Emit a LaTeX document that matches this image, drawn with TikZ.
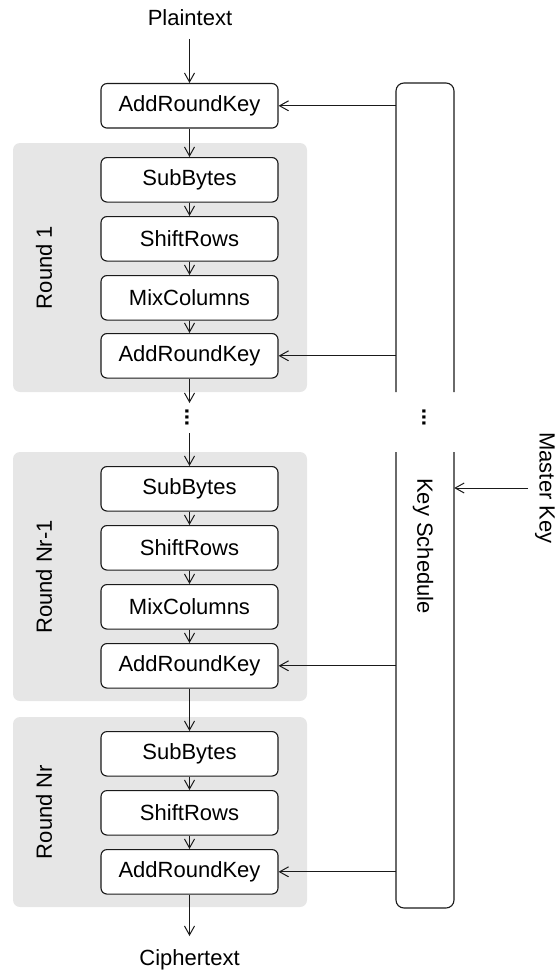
\documentclass[tikz,border=0pt]{standalone}
\usepackage{fontspec}
\setmainfont{Liberation Sans}
\usetikzlibrary{arrows.meta}
\definecolor{roundgray}{HTML}{E6E6E6}
\definecolor{edge}{HTML}{1A1A1A}
\begin{document}
\begin{tikzpicture}[x=1pt,y=1pt,
  font=\fontsize{22}{26}\selectfont,
  stepbox/.style={draw=edge, line width=1.1pt, rounded corners=6pt, fill=white,
    minimum width=177pt, minimum height=44.5pt, inner sep=0pt, anchor=north},
  roundbg/.style={fill=roundgray, rounded corners=7pt},
  ksline/.style={draw=edge, line width=1.1pt, rounded corners=8pt},
  arr/.style={-{Straight Barb[length=9pt,width=10pt,line width=1pt]}, line width=1pt, draw=edge},
  dotsnode/.style={font=\bfseries\fontsize{22}{26}\selectfont, inner sep=0pt},
]
\useasboundingbox (0,0) rectangle (557,-971);

% round backgrounds
\fill[roundbg] (13,-143) rectangle (307,-392);
\fill[roundbg] (13,-452) rectangle (307,-701);
\fill[roundbg] (13,-717) rectangle (307,-907);

% round labels
\node[rotate=90] (r1) at (44,-267.5) {Round 1};
\node[rotate=90] (r2) at (44,-577) {Round Nr-1};
\node[rotate=90] (r3) at (44,-812) {Round Nr};

% plaintext / ciphertext
\node (pt) at (190,-18) {Plaintext};
\coordinate (ptout) at (189.5,-39);
\node (ct) at (189.5,-960) {Ciphertext};
\coordinate (ctin) at (189.5,-936);

% steps
\node[stepbox] (ark0) at (189.5,-83) {AddRoundKey};

\node[stepbox] (sb1) at (189.5,-157) {SubBytes};
\node[stepbox] (sr1) at (189.5,-216) {ShiftRows};
\node[stepbox] (mc1) at (189.5,-275) {MixColumns};
\node[stepbox] (ark1) at (189.5,-333) {AddRoundKey};

\node[dotsnode, rotate=90] (dots) at (187,-417.5) {...};
\coordinate (din) at (189.5,-403);
\coordinate (dout) at (189.5,-433);

\node[stepbox] (sb2) at (189.5,-466) {SubBytes};
\node[stepbox] (sr2) at (189.5,-525) {ShiftRows};
\node[stepbox] (mc2) at (189.5,-584) {MixColumns};
\node[stepbox] (ark2) at (189.5,-643) {AddRoundKey};

\node[stepbox] (sb3) at (189.5,-731) {SubBytes};
\node[stepbox] (sr3) at (189.5,-790) {ShiftRows};
\node[stepbox] (ark3) at (189.5,-849) {AddRoundKey};

% key schedule (broken outline)
\node[minimum width=58pt, minimum height=825pt, inner sep=0pt] (ks) at (425,-495.5) {};
\draw[ksline] (396,-392) -- (396,-83) -- (454,-83) -- (454,-392);
\draw[ksline] (396,-452) -- (396,-908) -- (454,-908) -- (454,-452);
\node[dotsnode, rotate=90] (ksdots) at (424,-417.5) {...};
\node[rotate=-90] (kslabel) at (423,-546) {Key Schedule};
\node[rotate=-90, inner sep=1pt] (mk) at (545,-488) {Master Key};
\coordinate (mkout) at (528,-488);

% main flow
\draw[arr] (ptout) -- (ark0.north);
\draw[arr] (ark0.south) -- (sb1.north);
\draw[arr] (sb1.south) -- (sr1.north);
\draw[arr] (sr1.south) -- (mc1.north);
\draw[arr] (mc1.south) -- (ark1.north);
\draw[arr] (ark1.south) -- (din);
\draw[arr] (dout) -- (sb2.north);
\draw[arr] (sb2.south) -- (sr2.north);
\draw[arr] (sr2.south) -- (mc2.north);
\draw[arr] (mc2.south) -- (ark2.north);
\draw[arr] (ark2.south) -- (sb3.north);
\draw[arr] (sb3.south) -- (sr3.north);
\draw[arr] (sr3.south) -- (ark3.north);
\draw[arr] (ark3.south) -- (ctin);

% key connections
\draw[arr] (ks.west |- ark0.east) -- (ark0.east);
\draw[arr] (ks.west |- ark1.east) -- (ark1.east);
\draw[arr] (ks.west |- ark2.east) -- (ark2.east);
\draw[arr] (ks.west |- ark3.east) -- (ark3.east);
\draw[arr] (mkout) -- (ks.east |- mkout);
\end{tikzpicture}
\end{document}
